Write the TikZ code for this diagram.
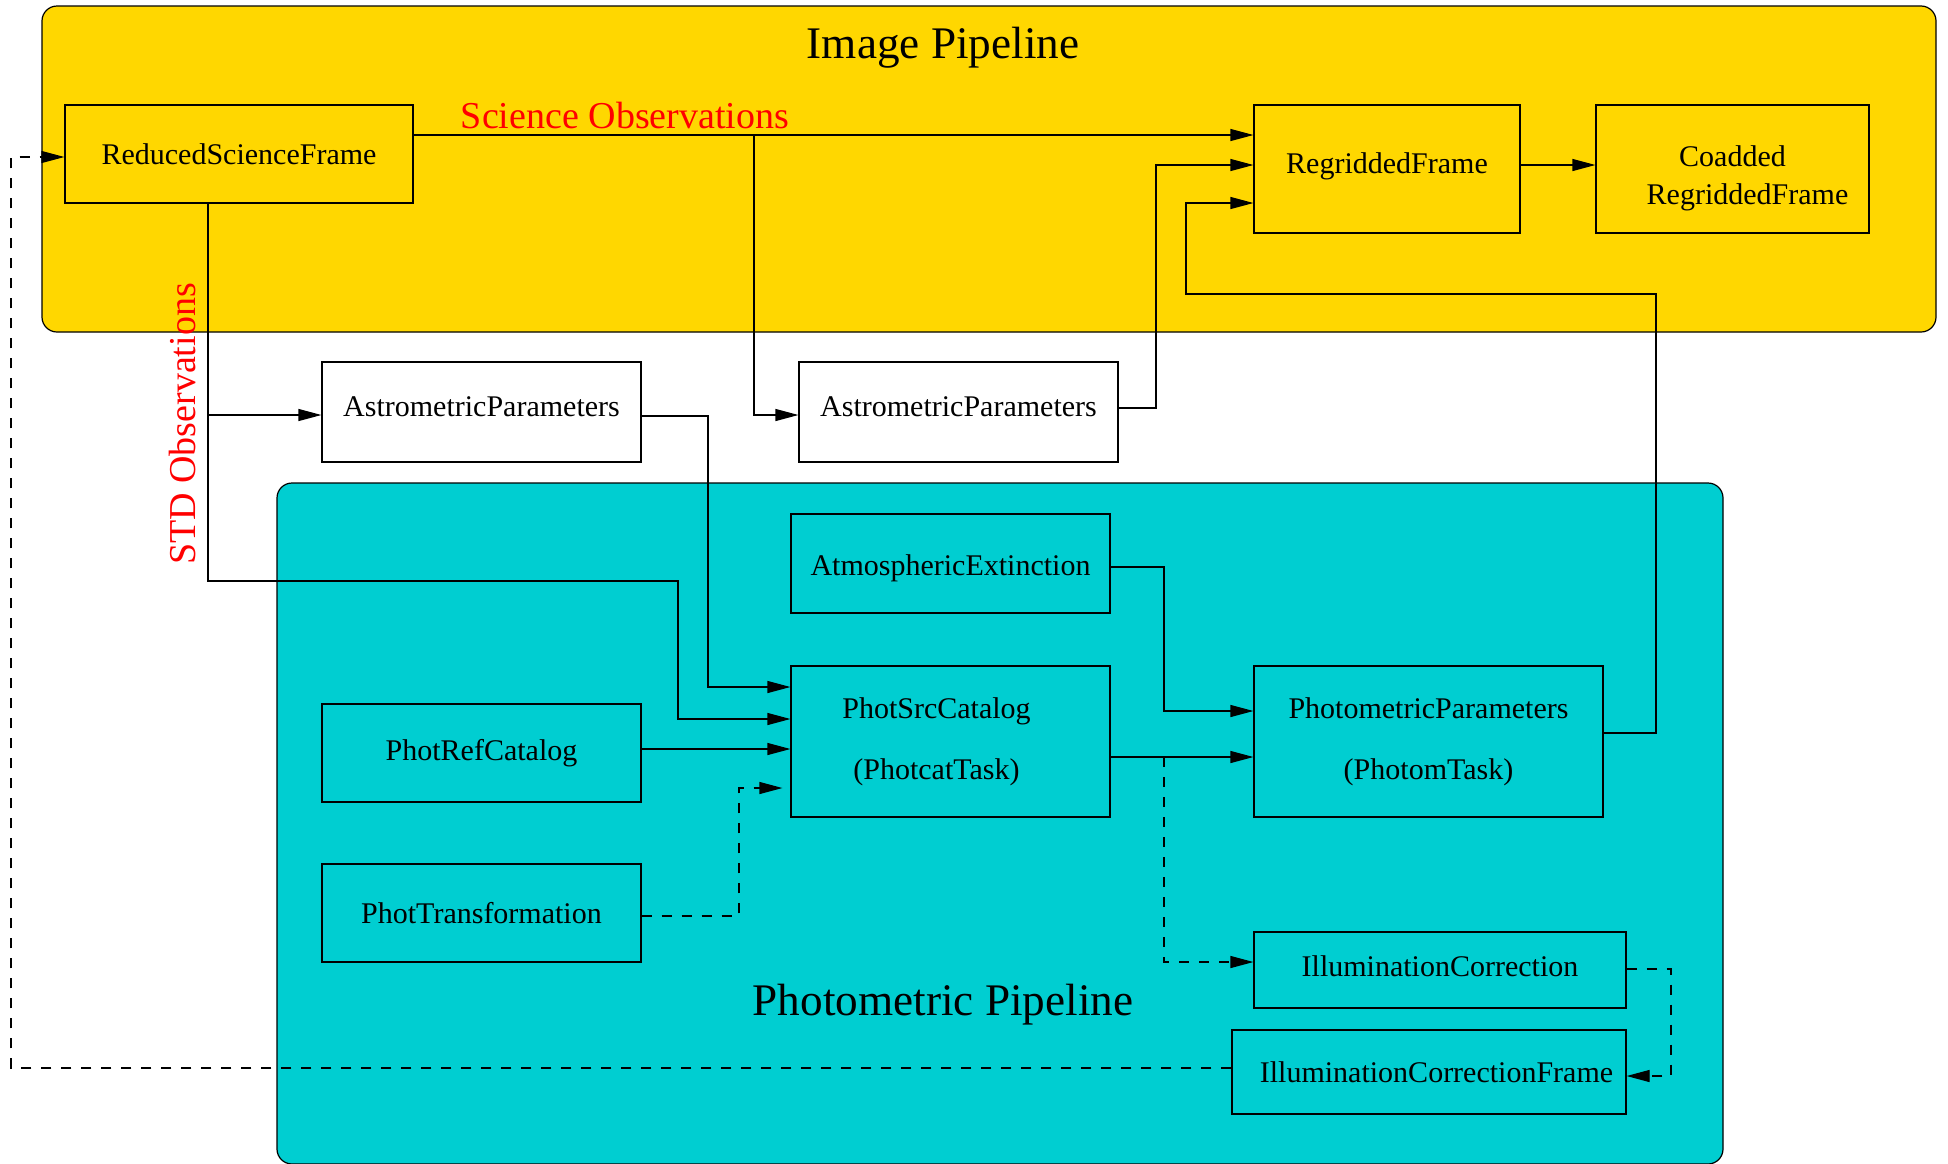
\documentclass[tikz,border=0pt]{standalone}
\usepackage{fontspec}
\setmainfont{Liberation Serif}
\usetikzlibrary{arrows.meta}
\definecolor{imgyellow}{RGB}{255,215,0}
\definecolor{photcyan}{RGB}{0,206,209}
\begin{document}
\begin{tikzpicture}[x=0.5pt,y=-0.5pt,
  box/.style={draw, line width=0.6pt, inner sep=0pt, font=\fontsize{15}{18}\selectfont},
  ybox/.style={box, fill=imgyellow},
  cbox/.style={box, fill=photcyan},
  wbox/.style={box, fill=white},
  arr/.style={line width=0.6pt, -{Triangle[length=11.5pt,width=6pt]}},
  plain/.style={line width=0.6pt},
  dsh/.style={dash pattern=on 5pt off 5pt},
  bigtitle/.style={font=\fontsize{22.6}{27}\selectfont},
  redlabel/.style={text=red, font=\fontsize{19}{23}\selectfont}]
\useasboundingbox (0,0) rectangle (1948,1163);
% backgrounds
\draw[fill=imgyellow, rounded corners=7.5pt, line width=0.6pt] (42,6) rectangle (1936,332);
\draw[fill=photcyan, rounded corners=7.5pt, line width=0.6pt] (277,483) rectangle (1723,1164);
% titles
\node[bigtitle] (t1) at (943,48) {Image Pipeline};
\node[bigtitle] (t2) at (943,1005) {Photometric Pipeline};
\node[redlabel] (sci) at (625,115) {Science Observations};
\node[redlabel, rotate=90] (std) at (182,424) {STD Observations};
% boxes
\node[ybox, minimum width=174pt, minimum height=49pt] (rsf) at (239,154) {ReducedScienceFrame};
\node[ybox, minimum width=133pt, minimum height=64pt, text depth=6pt] (reg) at (1387,169) {RegriddedFrame};
\node[ybox, minimum width=136.5pt, minimum height=64pt, align=center, text height=39pt,
      font=\fontsize{15}{19}\selectfont] (coadd) at (1732.5,169) {Coadded\\\hspace*{15pt}RegriddedFrame};
\node[wbox, minimum width=159.5pt, minimum height=50pt, text depth=5pt] (ast1) at (481.5,412) {AstrometricParameters};
\node[wbox, minimum width=159.5pt, minimum height=50pt, text depth=5pt] (ast2) at (958.5,412) {AstrometricParameters};
\node[cbox, minimum width=159.5pt, minimum height=49.5pt, text height=15.5pt] (atm) at (950.5,563.5) {AtmosphericExtinction};
\node[cbox, minimum width=159.5pt, minimum height=75.5pt, align=center,
      font=\fontsize{15}{30.5}\selectfont] (psc) at (950.5,741.5) {PhotSrcCatalog\hspace*{14pt}\\(PhotcatTask)\hspace*{14pt}};
\node[cbox, minimum width=159.5pt, minimum height=49pt] (pref) at (481.5,753) {PhotRefCatalog};
\node[cbox, minimum width=159.5pt, minimum height=49pt] (ptr) at (481.5,913) {PhotTransformation};
\node[cbox, minimum width=174.5pt, minimum height=75.5pt, align=center,
      font=\fontsize{15}{30.5}\selectfont] (pp) at (1428.5,741.5) {PhotometricParameters\\(PhotomTask)};
\node[cbox, minimum width=186pt, minimum height=38pt, text depth=4pt] (ic) at (1440,970) {IlluminationCorrection};
\node[cbox, minimum width=197pt, minimum height=42pt] (icf) at (1429,1072) {\hspace*{7.5pt}IlluminationCorrectionFrame};
% branch points
\coordinate (sb) at (754,135);
\coordinate (sd) at (208,415);
\coordinate (pb) at (1164,757);
% connectors
\draw[arr] (rsf.east |- 0,135) -- (reg.west |- 0,135);
\draw[arr] (sb) |- (ast2.west |- 0,415);
\draw[arr] (ast2.east |- 0,408) -| (1156,165) -- (reg.west |- 0,165);
\draw[arr] (reg.east |- 0,165) -- (coadd.west |- 0,165);
\draw[arr] (pp.east |- 0,733) -| (1656,294) -| (1186,203) -- (reg.west |- 0,203);
\draw[plain] (rsf.south -| sd) -- (sd);
\draw[arr] (sd) -- (ast1.west |- sd);
\draw[arr] (sd) |- (678,581) |- (psc.west |- 0,719);
\draw[arr] (ast1.east |- 0,416) -| (708,687) -- (psc.west |- 0,687);
\draw[arr] (pref.east |- 0,749) -- (psc.west |- 0,749);
\draw[arr, dsh, shorten >=4pt] (ptr.east |- 0,916) -| (739,788) -- (psc.west |- 0,788);
\draw[arr] (atm.east |- 0,567) -| (1164,711) -- (pp.west |- 0,711);
\draw[arr] (psc.east |- pb) -- (pp.west |- pb);
\draw[arr, dsh] (pb) |- (ic.west |- 0,962);
\draw[arr, dsh] (ic.east |- 0,969) -| (1671,1076) -- (icf.east |- 0,1076);
\draw[arr, dsh] (icf.west |- 0,1068) -| (11,157) -- (rsf.west |- 0,157);
\end{tikzpicture}
\end{document}
